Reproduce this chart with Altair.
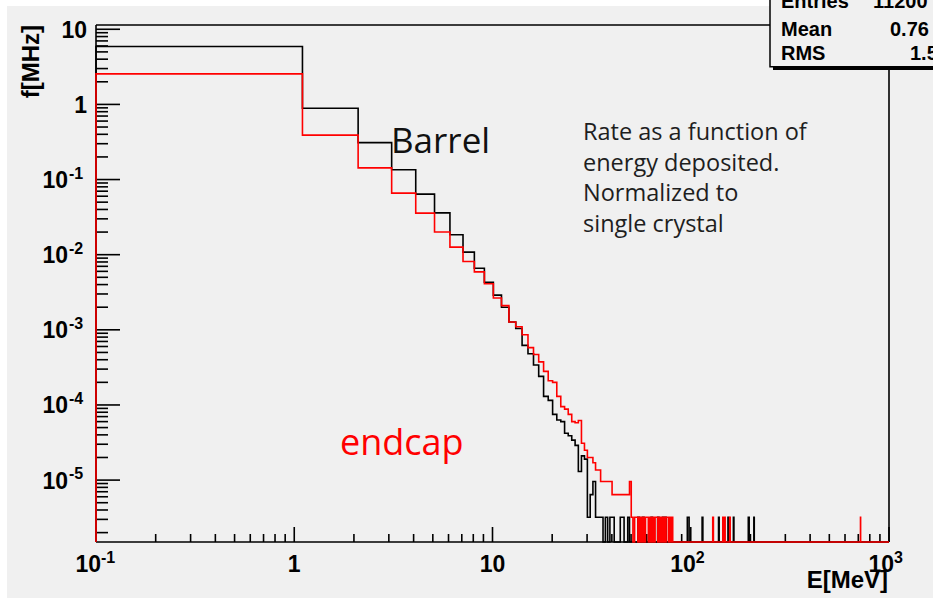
import altair as alt
import numpy as np
import pandas as pd

# Histogram binning: 1 MeV wide bins starting at 0.1 MeV
n_bins = 1000
bin_start = 0.1
bin_width = 1.0
e_max = 1000.0

# Rate per bin [MHz] for the populated low-energy bins
barrel_rate = [
    5.9, 0.89, 0.31, 0.135, 0.064, 0.036, 0.0184, 0.0108, 0.0066, 0.0043,
    0.0029, 0.0020, 0.00127, 0.00104, 0.00062, 0.00048, 0.00034, 0.00024, 0.00013, 0.000115,
    0.000075, 0.000063, 0.000060, 0.000042, 0.000039, 0.000034, 0.000029, 0.000013, 0.000021, 0.000019,
]
endcap_rate = [
    2.55, 0.39, 0.143, 0.066, 0.0357, 0.020, 0.0126, 0.0081, 0.0059, 0.0041,
    0.00265, 0.0021, 0.00127, 0.00110, 0.00086, 0.00058, 0.00047, 0.000375, 0.00028, 0.00021,
    0.00020, 0.00013, 0.000095, 0.000088, 0.000075, 0.000060, 0.000058, 0.000062, 0.000031, 0.000025,
    0.000020, 0.000020, 0.000017, 0.0000136, 0.0000136,
]

# Sparse high-energy tails: bin index and number of entries per bin
entry_rate = 3.2e-6
barrel_tail_bins = [30, 31, 32, 33, 34, 35, 37, 39, 40, 44, 45, 48, 54, 57, 63, 68, 72, 74,
                    96, 97, 114, 138, 154, 164, 195, 196, 208]
barrel_tail_entries = [1, 2, 3, 1, 1, 1, 1, 1, 1, 1, 1, 1, 1, 1, 1, 1, 1, 1,
                       1, 1, 1, 1, 1, 1, 1, 1, 1]
endcap_tail_bins = [35, 36, 37, 38, 39, 40, 41, 42, 43, 44, 45, 46, 47, 48, 49, 50,
                    52, 53, 55, 57, 59, 60, 62, 64, 66, 67, 69, 71, 73, 75, 76, 78, 80,
                    129, 145, 148, 157, 718]
endcap_tail_entries = [3, 3, 3, 3, 3, 2, 2, 2, 2, 2, 2, 2, 2, 2, 3, 1,
                       1, 1, 1, 1, 1, 1, 1, 1, 1, 1, 1, 1, 1, 1, 1, 1, 1,
                       1, 1, 1, 1, 1]

# Axis ranges, tick positions and tick labels (base and exponent)
x_domain = [0.1, 1000.0]
y_domain = [1.5e-6, 11.4]
x_major = [0.1, 1, 10, 100, 1000]
x_label_base = ["10", "1", "10", "10", "10"]
x_label_sup = ["-1", "", "", "2", "3"]
y_major = [10, 1, 1e-1, 1e-2, 1e-3, 1e-4, 1e-5]
y_label_base = ["10", "1", "10", "10", "10", "10", "10"]
y_label_sup = ["", "", "-1", "-2", "-3", "-4", "-5"]
x_minor = [m * 10.0 ** k for k in range(-1, 3) for m in range(2, 10)]
y_minor = [m * 10.0 ** k for k in range(-6, 1) for m in range(2, 10)
           if y_domain[0] <= m * 10.0 ** k <= y_domain[1]]

# Statistics box contents
stats_names = ["Entries", "Mean", "RMS"]
stats_values = ["11200", "0.76", "1.5"]

W, H = 793, 517
BG = "#f0f0f0"
AXIS_FONT = "Liberation Sans"
TEXT_FONT = "Open Sans"


def step_table(rates, tail_bins, tail_entries):
    vals = np.full(n_bins, y_domain[0])
    vals[:len(rates)] = rates
    for b, c in zip(tail_bins, tail_entries):
        vals[b] = c * entry_rate
    edges = bin_start + np.arange(n_bins) * bin_width
    xs = [bin_start] + list(edges) + [e_max]
    ys = [y_domain[0]] + list(vals) + [y_domain[0]]
    return pd.DataFrame({"E": xs, "f": ys, "i": np.arange(len(xs))})


barrel = step_table(barrel_rate, barrel_tail_bins, barrel_tail_entries)
endcap = step_table(endcap_rate, endcap_tail_bins, endcap_tail_entries)

xs = alt.Scale(type="log", domain=x_domain, nice=False)
ys = alt.Scale(type="log", domain=y_domain, nice=False, clamp=True)


def xenc(field):
    return alt.X(field, scale=xs, axis=None)


def yenc(field):
    return alt.Y(field, scale=ys, axis=None)


one = pd.DataFrame({"k": [0]})

# Thin white margin along the top and left edges
strips = alt.layer(
    alt.Chart(one).mark_rect(color="white").encode(
        x=alt.value(-96), x2=alt.value(-89), y=alt.value(-25), y2=alt.value(H + 56)),
    alt.Chart(one).mark_rect(color="white").encode(
        x=alt.value(-96), x2=alt.value(674), y=alt.value(-25), y2=alt.value(-19)),
)

# Inward-pointing ticks
tick_style = dict(color="black", strokeWidth=1.6)
ticks = alt.layer(
    alt.Chart(pd.DataFrame({"v": y_major})).mark_rule(**tick_style).encode(
        y=yenc("v:Q"), x=alt.value(0), x2=alt.value(24)),
    alt.Chart(pd.DataFrame({"v": y_minor})).mark_rule(**tick_style).encode(
        y=yenc("v:Q"), x=alt.value(0), x2=alt.value(12)),
    alt.Chart(pd.DataFrame({"v": x_major})).mark_rule(**tick_style).encode(
        x=xenc("v:Q"), y=alt.value(H), y2=alt.value(H - 15)),
    alt.Chart(pd.DataFrame({"v": x_minor})).mark_rule(**tick_style).encode(
        x=xenc("v:Q"), y=alt.value(H), y2=alt.value(H - 8)),
)

# Tick labels: base number plus raised exponent
lab = dict(font=AXIS_FONT, fontWeight="bold", color="black", baseline="middle")
xl = pd.DataFrame({"v": x_major, "base": x_label_base, "sup": x_label_sup})
yl = pd.DataFrame({"v": y_major, "base": y_label_base, "sup": y_label_sup})
labels = alt.layer(
    alt.Chart(xl).transform_filter("datum.sup == ''").mark_text(
        fontSize=23, align="center", **lab).encode(
        x=xenc("v:Q"), y=alt.value(H + 23), text="base:N"),
    alt.Chart(xl).transform_filter("datum.sup != ''").mark_text(
        fontSize=23, align="right", dx=5, **lab).encode(
        x=xenc("v:Q"), y=alt.value(H + 23), text="base:N"),
    alt.Chart(xl).transform_filter("datum.sup != ''").mark_text(
        fontSize=16, align="left", dx=5, **lab).encode(
        x=xenc("v:Q"), y=alt.value(H + 16), text="sup:N"),
    alt.Chart(yl).transform_filter("datum.sup == ''").mark_text(
        fontSize=23, align="right", dy=1.5, **lab).encode(
        y=yenc("v:Q"), x=alt.value(-9), text="base:N"),
    alt.Chart(yl).transform_filter("datum.sup != ''").mark_text(
        fontSize=23, align="right", dy=1.5, **lab).encode(
        y=yenc("v:Q"), x=alt.value(-28), text="base:N"),
    alt.Chart(yl).transform_filter("datum.sup != ''").mark_text(
        fontSize=16, align="left", dy=-6, **lab).encode(
        y=yenc("v:Q"), x=alt.value(-27), text="sup:N"),
)

# Plot frame
frame = alt.layer(
    alt.Chart(one).mark_rule(**tick_style).encode(x=alt.value(0), x2=alt.value(W), y=alt.value(0)),
    alt.Chart(one).mark_rule(**tick_style).encode(x=alt.value(W), y=alt.value(0), y2=alt.value(H)),
    alt.Chart(one).mark_rule(**tick_style).encode(x=alt.value(0), y=alt.value(0), y2=alt.value(H)),
    alt.Chart(one).mark_rule(**tick_style).encode(x=alt.value(0), x2=alt.value(W), y=alt.value(H)),
)

barrel_line = alt.Chart(barrel).mark_line(
    interpolate="step-after", color="black", strokeWidth=1.6
).encode(x=xenc("E:Q"), y=yenc("f:Q"), order=alt.Order("i:Q"))

endcap_line = alt.Chart(endcap).mark_line(
    interpolate="step-after", color="#ff0000", strokeWidth=1.6
).encode(x=xenc("E:Q"), y=yenc("f:Q"), order=alt.Order("i:Q"))

# Axis titles
titles = alt.layer(
    alt.Chart(pd.DataFrame({"t": ["f[MHz]"]})).mark_text(
        font=AXIS_FONT, fontWeight="bold", fontSize=24, angle=270, align="right",
        baseline="alphabetic", color="black",
    ).encode(text="t:N", x=alt.value(-57), y=alt.value(0)),
    alt.Chart(pd.DataFrame({"t": ["E[MeV]"]})).mark_text(
        font=AXIS_FONT, fontWeight="bold", fontSize=24, align="right",
        baseline="alphabetic", color="black",
    ).encode(text="t:N", x=alt.value(W - 1), y=alt.value(H + 46)),
)

# Annotations
notes = alt.layer(
    alt.Chart(pd.DataFrame({"t": ["Barrel"]})).mark_text(
        font=TEXT_FONT, fontSize=35, align="left", baseline="alphabetic", color="#111111",
    ).encode(text="t:N", x=alt.value(295), y=alt.value(128)),
    alt.Chart(pd.DataFrame({"t": ["endcap"]})).mark_text(
        font=TEXT_FONT, fontSize=36, align="left", baseline="alphabetic", color="#ff0000",
    ).encode(text="t:N", x=alt.value(244), y=alt.value(430)),
    alt.Chart(one).mark_text(
        font=TEXT_FONT, fontSize=23.5, align="left", baseline="alphabetic", color="#1e1e1e",
        lineHeight=30.6,
    ).encode(
        text=alt.value(["Rate as a function of", "energy deposited.",
                        "Normalized to", "single crystal"]),
        x=alt.value(487), y=alt.value(115),
    ),
)

# Statistics box in the top-right corner
stats_df = pd.DataFrame({"name": stats_names, "val": stats_values, "row": [0, 1, 2]})
stats_y = "datum.row == 0 ? -17 : -14 + 24.5 * datum.row"
stats = alt.layer(
    alt.Chart(one).mark_rect(color="black").encode(
        x=alt.value(677), x2=alt.value(900), y=alt.value(-45), y2=alt.value(45)),
    alt.Chart(one).mark_rect(fill=BG, stroke="black", strokeWidth=1.5).encode(
        x=alt.value(674), x2=alt.value(900), y=alt.value(-45), y2=alt.value(41.7)),
    alt.Chart(stats_df).transform_calculate(py=stats_y).mark_text(
        font=AXIS_FONT, fontWeight="bold", fontSize=20, align="left", baseline="alphabetic",
        color="black",
    ).encode(text="name:N", x=alt.value(685), y=alt.Y("py:Q", scale=None)),
    alt.Chart(stats_df).transform_calculate(
        py=stats_y,
        px="datum.row == 0 ? 777 : datum.row == 1 ? 794 : 814",
    ).mark_text(
        font=AXIS_FONT, fontWeight="bold", fontSize=20, align="left", baseline="alphabetic",
        color="black",
    ).encode(text="val:N", x=alt.X("px:Q", scale=None), y=alt.Y("py:Q", scale=None)),
)

chart = alt.layer(
    strips, ticks, frame, barrel_line, endcap_line, labels, titles, notes, stats
).properties(
    width=W, height=H, background=BG,
    padding={"left": 96, "top": 25, "right": 44, "bottom": 56},
    autosize=alt.AutoSizeParams(type="none"),
).configure_view(stroke="transparent")

chart.save("out.html", embed_options={"renderer": "svg", "actions": False})
